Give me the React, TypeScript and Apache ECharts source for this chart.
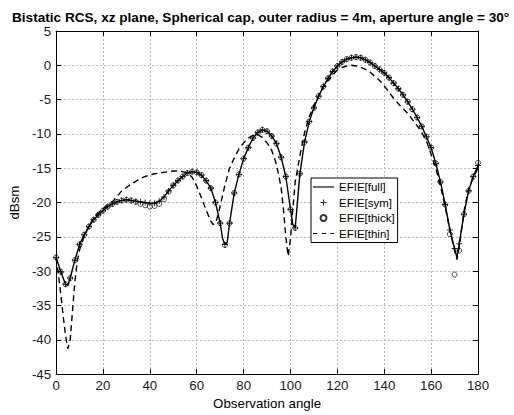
import { useEffect, useRef } from "react";
import * as echarts from "echarts";

const FONT = '"Liberation Sans", Arial, Helvetica, sans-serif';

const TITLE = "Bistatic RCS, xz plane, Spherical cap, outer radius = 4m, aperture angle = 30°";
const X_NAME = "Observation angle";
const Y_NAME = "dBsm";
const SERIES_NAMES = ["EFIE[full]", "EFIE[sym]", "EFIE[thick]", "EFIE[thin]"];

const X_MIN = 0;
const X_MAX = 180;
const X_STEP = 20;
const Y_MIN = -45;
const Y_MAX = 5;
const Y_STEP = 5;

// EFIE[full] – solid line
const fullAngles = [
  0, 2, 4, 5, 6, 8, 10, 12, 14, 16, 18, 20, 22, 24, 26, 28, 30, 32, 34, 36, 38, 40,
  42, 44, 46, 48, 50, 52, 54, 56, 58, 60, 62, 64, 66, 68, 70, 71, 72, 73, 74, 76, 78,
  80, 82, 84, 86, 88, 90, 92, 94, 96, 98, 100, 101, 102, 103, 104, 106, 108, 110,
  112, 114, 116, 118, 120, 122, 124, 126, 128, 130, 132, 134, 136, 138, 140, 142,
  144, 146, 148, 150, 152, 154, 156, 158, 160, 162, 164, 166, 168, 170, 171, 172,
  174, 176, 178, 180,
];
const fullValues = [
  -28.0, -30.1, -31.9, -32.1, -31.0, -28.4, -26.1, -24.7, -23.5, -22.5, -21.8, -21.2,
  -20.6, -20.2, -19.9, -19.7, -19.6, -19.7, -19.8, -19.9, -20.0, -20.1, -20.1, -19.8,
  -19.2, -18.3, -17.5, -16.8, -16.2, -15.7, -15.5, -15.6, -16.0, -16.8, -17.9, -20.0,
  -23.0, -25.2, -26.1, -25.8, -23.0, -18.6, -15.9, -13.6, -12.0, -10.6, -9.8, -9.4,
  -9.6, -10.3, -11.4, -13.4, -16.2, -21.0, -23.2, -23.7, -19.8, -15.8, -11.2, -8.2,
  -6.2, -4.5, -3.1, -1.9, -0.9, -0.1, 0.5, 0.9, 1.1, 1.2, 1.1, 0.8, 0.4, -0.1, -0.6,
  -1.1, -1.8, -2.6, -3.4, -4.3, -5.3, -6.4, -7.6, -8.9, -10.4, -12.0, -14.3, -17.0,
  -20.3, -24.0, -26.7, -28.0, -26.0, -21.7, -18.3, -16.2, -14.6,
];

// EFIE[sym] and EFIE[thick] – markers
const markerAngles = [
  0, 2, 4, 6, 8, 10, 12, 14, 16, 18, 20, 22, 24, 26, 28, 30, 32, 34, 36, 38, 40, 42,
  44, 46, 48, 50, 52, 54, 56, 58, 60, 62, 64, 66, 68, 70, 72, 74, 76, 78, 80, 82, 84,
  86, 88, 90, 92, 94, 96, 98, 100, 102, 104, 106, 108, 110, 112, 114, 116, 118, 120,
  122, 124, 126, 128, 130, 132, 134, 136, 138, 140, 142, 144, 146, 148, 150, 152,
  154, 156, 158, 160, 162, 164, 166, 168, 170, 172, 174, 176, 178, 180,
];
const symValues = [
  -28.0, -30.1, -31.9, -31.0, -28.4, -26.1, -24.7, -23.5, -22.5, -21.8, -21.2, -20.6,
  -20.2, -19.9, -19.7, -19.6, -19.7, -19.8, -19.9, -20.0, -20.1, -20.1, -19.8, -19.2,
  -18.3, -17.5, -16.8, -16.2, -15.7, -15.5, -15.6, -16.0, -16.8, -17.9, -20.0, -23.0,
  -26.1, -23.0, -18.6, -15.9, -13.6, -12.0, -10.6, -9.8, -9.4, -9.6, -10.3, -11.4,
  -13.4, -16.2, -21.0, -23.7, -15.8, -11.2, -8.2, -6.2, -4.5, -3.1, -1.9, -0.9, -0.1,
  0.5, 0.9, 1.1, 1.2, 1.1, 0.8, 0.4, -0.1, -0.6, -1.1, -1.8, -2.6, -3.4, -4.3, -5.3,
  -6.4, -7.6, -8.9, -10.4, -12.0, -14.3, -17.0, -20.3, -24.0, -26.7, -26.0, -21.7,
  -18.3, -16.2, -14.6,
];
const thickValues = [
  -28.0, -30.1, -31.9, -31.0, -28.4, -26.1, -24.7, -23.5, -22.5, -21.8, -21.2, -20.6,
  -20.2, -19.9, -19.7, -19.6, -19.7, -19.9, -20.2, -20.4, -20.6, -20.5, -20.2, -19.5,
  -18.4, -17.5, -16.8, -16.2, -15.7, -15.5, -15.6, -16.0, -16.8, -17.9, -20.0, -23.0,
  -26.2, -23.0, -18.6, -15.9, -13.6, -12.0, -10.6, -9.8, -9.4, -9.6, -10.3, -11.4,
  -13.4, -16.2, -21.0, -23.7, -15.8, -11.2, -8.2, -6.2, -4.5, -3.1, -1.9, -0.9, -0.1,
  0.5, 0.9, 1.1, 1.2, 1.1, 0.8, 0.4, -0.1, -0.6, -1.1, -1.8, -2.6, -3.4, -4.3, -5.3,
  -6.4, -7.6, -8.9, -10.4, -12.0, -14.3, -17.0, -20.3, -24.6, -30.5, -27.0, -21.7,
  -18.3, -16.2, -14.2,
];

// EFIE[thin] – dashed line
const thinAngles = [
  0, 1, 2, 3, 4, 5, 6, 7, 8, 9, 10, 12, 14, 16, 18, 20, 22, 24, 26, 28, 30, 32, 34,
  36, 38, 40, 42, 44, 46, 48, 50, 52, 54, 56, 58, 60, 62, 64, 66, 67, 68, 69, 70, 72,
  74, 76, 78, 80, 82, 84, 86, 88, 90, 92, 94, 96, 97, 98, 99, 100, 101, 102, 104,
  106, 108, 110, 112, 114, 116, 118, 120, 122, 124, 126, 128, 130, 132, 134, 136,
  138, 140, 142, 144, 146, 148, 150, 152, 154, 156, 158, 160, 162, 164, 166, 168,
  170, 171, 172, 174, 176, 178, 180,
];
const thinValues = [
  -28.0, -30.5, -33.4, -36.5, -39.3, -41.3, -40.0, -35.8, -31.5, -28.6, -26.9, -24.9,
  -23.4, -22.3, -21.5, -20.9, -20.4, -19.9, -19.1, -18.3, -17.8, -17.3, -16.9, -16.5,
  -16.2, -16.0, -15.8, -15.7, -15.6, -15.5, -15.4, -15.4, -15.5, -15.7, -16.3, -17.6,
  -19.3, -21.1, -22.7, -23.2, -23.0, -21.9, -20.5, -17.5, -15.0, -13.5, -12.2, -11.3,
  -10.6, -10.2, -10.1, -10.5, -11.3, -12.4, -14.4, -17.8, -21.0, -25.0, -27.8, -25.3,
  -21.0, -17.0, -13.2, -9.8, -7.5, -5.8, -4.4, -3.2, -2.2, -1.4, -0.7, -0.3, -0.1, 0.0,
  -0.1, -0.3, -0.6, -1.0, -1.6, -2.2, -3.0, -3.9, -4.8, -5.6, -6.3, -7.0, -7.9, -8.8,
  -9.8, -11.0, -13.0, -15.0, -17.6, -20.6, -24.0, -27.0, -28.3, -26.5, -21.3, -18.0,
  -16.3, -15.0,
];

const PLUS =
  "path://M-0.18,-1H0.18V-0.18H1V0.18H0.18V1H-0.18V0.18H-1V-0.18H-0.18Z";
const LEGEND_SOLID = "path://M0,0H24V1.3H0Z";
const LEGEND_DASHED = "path://M0,0H5V1.3H0Z M10,0H15V1.3H10Z M20,0H24V1.3H20Z";

const pairs = (xs: number[], ys: number[]) => xs.map((x, i) => [x, ys[i]]);

export default function App() {
  const ref = useRef<HTMLDivElement>(null);

  useEffect(() => {
    if (!ref.current) return;
    const chart = echarts.init(ref.current, null, { renderer: "svg" });
    const axisLine = { show: true, onZero: false, lineStyle: { color: "#000", width: 1 } };
    const axisTick = { show: true, inside: true, length: 5, lineStyle: { color: "#000" } };
    const labelStyle = { color: "#1a1a1a", fontSize: 13.3, fontFamily: FONT };
    const splitLine = { show: true, lineStyle: { color: "#b8b8b8", width: 1, type: [2, 2] } };

    chart.setOption({
      animation: false,
      backgroundColor: "#fff",
      title: {
        text: TITLE,
        left: 12,
        top: 10,
        padding: 0,
        textStyle: { fontSize: 13.6, fontWeight: "bold", color: "#000", fontFamily: FONT },
      },
      grid: { left: 48, right: 36, top: 31, bottom: 34, containLabel: false },
      xAxis: [
        {
          type: "value",
          min: X_MIN,
          max: X_MAX,
          interval: X_STEP,
          position: "bottom",
          axisLine,
          axisTick,
          axisLabel: { ...labelStyle, margin: 5 },
          splitLine,
          name: X_NAME,
          nameLocation: "middle",
          nameGap: 21,
          nameTextStyle: { ...labelStyle, color: "#000" },
        },
        {
          type: "value",
          min: X_MIN,
          max: X_MAX,
          interval: X_STEP,
          position: "top",
          axisLine,
          axisTick,
          axisLabel: { show: false },
          splitLine: { show: false },
        },
      ],
      yAxis: [
        {
          type: "value",
          min: Y_MIN,
          max: Y_MAX,
          interval: Y_STEP,
          position: "left",
          axisLine,
          axisTick,
          axisLabel: { ...labelStyle, margin: 5 },
          splitLine,
          name: Y_NAME,
          nameLocation: "middle",
          nameGap: 30,
          nameTextStyle: { ...labelStyle, color: "#000" },
        },
        {
          type: "value",
          min: Y_MIN,
          max: Y_MAX,
          interval: Y_STEP,
          position: "right",
          axisLine,
          axisTick,
          axisLabel: { show: false },
          splitLine: { show: false },
        },
      ],
      legend: {
        orient: "vertical",
        left: 311,
        top: 178,
        backgroundColor: "#fff",
        borderColor: "#000",
        borderWidth: 1,
        borderRadius: 0,
        padding: [3, 3, 3, 2],
        itemWidth: 21,
        itemHeight: 6,
        itemGap: 3.5,
        textStyle: { fontSize: 11.5, color: "#000", fontFamily: FONT },
        data: [
          { name: SERIES_NAMES[0], icon: LEGEND_SOLID },
          { name: SERIES_NAMES[1] },
          { name: SERIES_NAMES[2] },
          { name: SERIES_NAMES[3], icon: LEGEND_DASHED },
        ],
      },
      series: [
        {
          name: SERIES_NAMES[0],
          type: "line",
          data: pairs(fullAngles, fullValues),
          symbol: "none",
          lineStyle: { color: "#000", width: 1.4 },
          itemStyle: { color: "#000" },
          z: 3,
        },
        {
          name: SERIES_NAMES[1],
          type: "scatter",
          data: pairs(markerAngles, symValues),
          symbol: PLUS,
          symbolSize: 6,
          itemStyle: { color: "#000" },
          z: 4,
        },
        {
          name: SERIES_NAMES[2],
          type: "scatter",
          data: pairs(markerAngles, thickValues),
          symbol: "circle",
          symbolSize: 5,
          itemStyle: { color: "rgba(0,0,0,0)", borderColor: "#000", borderWidth: 0.9 },
          z: 4,
        },
        {
          name: SERIES_NAMES[3],
          type: "line",
          data: pairs(thinAngles, thinValues),
          symbol: "none",
          lineStyle: { color: "#000", width: 1.4, type: [6, 4] },
          itemStyle: { color: "#000" },
          z: 3,
        },
      ],
    });
    return () => chart.dispose();
  }, []);

  return (
    <div
      ref={ref}
      style={{ position: "absolute", left: 0, top: 0, width: 514, height: 415 }}
    />
  );
}
